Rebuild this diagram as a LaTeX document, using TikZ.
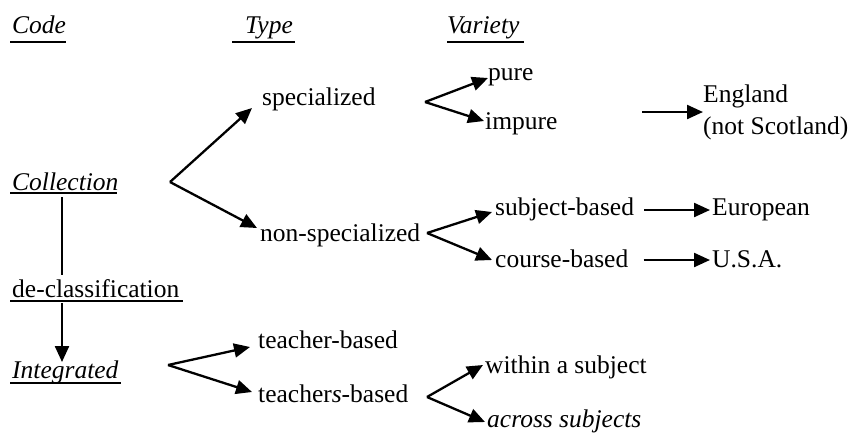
\documentclass[tikz,border=0pt]{standalone}
\usepackage{amsmath}
\usepackage{fontspec}
\setmainfont{Liberation Serif}
\usepackage{tikz}
\usetikzlibrary{arrows.meta}
\tikzset{lbl/.style={anchor=base west, inner sep=0pt, font=\fontsize{25.5}{32}\selectfont}}
\tikzset{brarrow/.style={line width=2.3pt, -{Triangle[length=16pt,width=14pt]}}}
\tikzset{uline/.style={line width=1.3pt}}

\begin{document}
\begin{tikzpicture}[x=1pt,y=-1pt]
\useasboundingbox (0,0) rectangle (867,432);

% column heads
\node[lbl] (code) at (12,33) {\textit{Code}};
\node[lbl] (type) at (245,33) {\textit{Type}};
\node[lbl] (variety) at (447,33) {\textit{Variety}};
\draw[uline] ([xshift=-2pt,yshift=-9pt]code.base west) -- ([xshift=0pt,yshift=-9pt]code.base east);
\draw[uline] ([xshift=-13pt,yshift=-9pt]type.base west) -- ([xshift=2pt,yshift=-9pt]type.base east);
\draw[uline] ([xshift=0pt,yshift=-9pt]variety.base west) -- ([xshift=4pt,yshift=-9pt]variety.base east);

% codes
\node[lbl] (coll) at (12,190) {\textit{Collection}};
\node[lbl] (declass) at (12,297) {de-classification};
\node[lbl] (integ) at (12,378) {\textit{Integrated}};
\draw[uline] ([xshift=-2pt,yshift=-3pt]coll.base west) -- ([xshift=-2pt,yshift=-3pt]coll.base east);
\draw[uline] ([xshift=-2pt,yshift=-4pt]declass.base west) -- ([xshift=4pt,yshift=-4pt]declass.base east);
\draw[uline] ([xshift=-2pt,yshift=-5pt]integ.base west) -- ([xshift=2pt,yshift=-5pt]integ.base east);

\coordinate (stem) at (62,182);
\draw[line width=2.3pt] (stem |- 0,197) -- (stem |- 0,275);
\draw[brarrow] (stem |- 0,303) -- (stem |- 0,362);

% collection types
\node[lbl] (spec) at (262,105) {specialized};
\node[lbl] (nonspec) at (260,241) {non-specialized};
\coordinate (b1) at (170,182);
\draw[brarrow] (b1) -- ([xshift=-10pt,yshift=-3pt]spec.base west);
\draw[brarrow] (b1) -- ([xshift=-3pt,yshift=13pt]nonspec.base west);

\node[lbl] (pure) at (488,80) {pure};
\node[lbl] (impure) at (485,129) {impure};
\coordinate (b2) at (425,102);
\draw[brarrow] (b2) -- ([yshift=2pt]pure.base west);
\draw[brarrow] (b2) -- ([xshift=-1pt,yshift=8pt]impure.base west);

\node[lbl, anchor=west, align=left] (england) at (703,112) {England\\(not Scotland)};
\coordinate (e0) at (642,112);
\draw[brarrow] (e0) -- (england.west);

\node[lbl] (subj) at (495,215) {subject-based};
\node[lbl] (course) at (495,267) {course-based};
\coordinate (b3) at (427,233);
\draw[brarrow] (b3) -- ([xshift=-3pt,yshift=3pt]subj.base west);
\draw[brarrow] (b3) -- ([xshift=-3pt,yshift=7pt]course.base west);

\node[lbl] (euro) at (712,215) {European};
\node[lbl] (usa) at (712,267) {U.S.A.};
\draw[brarrow] ([xshift=10pt,yshift=5pt]subj.base east) -- ([xshift=-2pt,yshift=5pt]euro.base west);
\draw[brarrow] ([xshift=15pt,yshift=7pt]course.base east) -- ([xshift=-2pt,yshift=7pt]usa.base west);

% integrated types
\node[lbl] (teacher) at (258,348) {teacher-based};
\node[lbl] (teachers) at (258,402) {teacher\textit{s}-based};
\coordinate (b4) at (168,365);
\draw[brarrow] (b4) -- ([xshift=-8pt,yshift=1pt]teacher.base west);
\draw[brarrow] (b4) -- ([xshift=-6pt,yshift=10pt]teachers.base west);

\node[lbl] (within) at (485,373) {within a subject};
\node[lbl] (across) at (487,427) {\textit{across subjects}};
\coordinate (b5) at (427,397);
\draw[brarrow] (b5) -- ([xshift=-2pt,yshift=8pt]within.base west);
\draw[brarrow] (b5) -- ([xshift=-2pt,yshift=5pt]across.base west);

\end{tikzpicture}
\end{document}
